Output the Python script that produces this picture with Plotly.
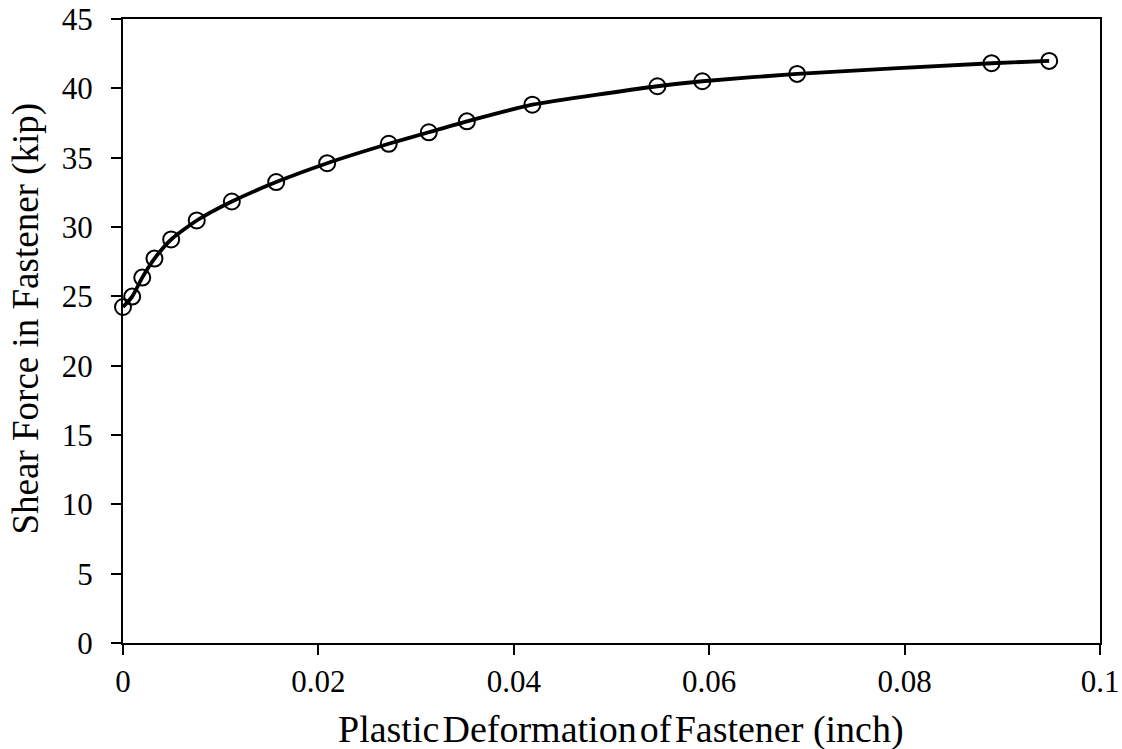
import plotly.graph_objects as go

deformation = [0.0, 0.00094, 0.00197, 0.00322, 0.00493, 0.00755, 0.01114, 0.01568,
               0.0209, 0.0272, 0.0313, 0.0352, 0.0419, 0.0547, 0.0593, 0.0690,
               0.0889, 0.0948]
shear_force = [24.23, 24.98, 26.35, 27.72, 29.1, 30.47, 31.84, 33.24,
               34.6, 36.0, 36.83, 37.62, 38.82, 40.15, 40.51, 41.04,
               41.81, 41.98]

x_ticks = [0, 0.02, 0.04, 0.06, 0.08, 0.1]
x_tick_labels = ["0", "0.02", "0.04", "0.06", "0.08", "0.1"]
y_ticks = list(range(0, 46, 5))

x_title = "Plastic\u200aDeformation\u200aof\u200aFastener (inch)"
y_title = "Shear Force in Fastener (kip)"

font_family = "Liberation Serif, Times New Roman, serif"

fig = go.Figure()
fig.add_trace(go.Scatter(
    x=deformation, y=shear_force,
    mode="lines+markers",
    line=dict(color="black", width=3.8, shape="spline", smoothing=0.6),
    marker=dict(symbol="circle-open", size=16, color="black", line=dict(width=2, color="black")),
    cliponaxis=False,
    showlegend=False,
))

fig.update_layout(
    width=1122, height=749,
    margin=dict(l=123, r=22, t=19, b=106),
    paper_bgcolor="white", plot_bgcolor="white",
    font=dict(family=font_family, color="black"),
    xaxis=dict(
        range=[0, 0.1], tickvals=x_ticks, ticktext=x_tick_labels,
        showgrid=False, zeroline=False, automargin=False,
        showline=True, linecolor="black", linewidth=2, mirror=True,
        ticks="outside", ticklen=10, tickwidth=2, tickcolor="black",
        tickfont=dict(size=31, family=font_family), ticklabelstandoff=0,
    ),
    yaxis=dict(
        range=[0, 45], tickvals=y_ticks,
        showgrid=False, zeroline=False, automargin=False,
        showline=True, linecolor="black", linewidth=2, mirror=True,
        ticks="outside", ticklen=10, tickwidth=2, tickcolor="black",
        tickfont=dict(size=31, family=font_family), ticklabelstandoff=12,
    ),
    annotations=[
        dict(text=x_title, xref="paper", yref="paper", x=0.5093, y=-0.1026,
             xanchor="center", yanchor="top", showarrow=False, borderpad=0,
             font=dict(size=38, family=font_family, color="black")),
        dict(text=y_title, xref="paper", yref="paper", x=-0.0768, y=0.52,
             xanchor="right", yanchor="middle", textangle=-90, showarrow=False, borderpad=0,
             font=dict(size=37, family=font_family, color="black")),
    ],
)

fig.write_html("out.html")
